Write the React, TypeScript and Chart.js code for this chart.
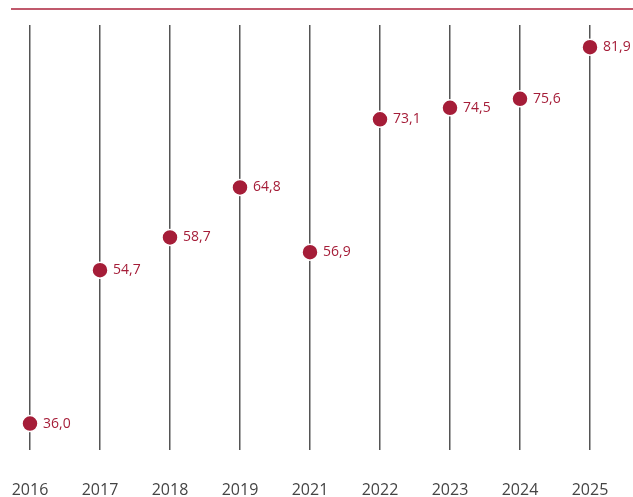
import React, { useEffect, useRef } from "react";
import { Chart, registerables } from "chart.js";

Chart.register(...registerables);

const years = ["2016", "2017", "2018", "2019", "2021", "2022", "2023", "2024", "2025"];
const values = [36.0, 54.7, 58.7, 64.8, 56.9, 73.1, 74.5, 75.6, 81.9];

const RED = "#a51d38";

export default function App() {
  const ref = useRef<HTMLCanvasElement | null>(null);
  useEffect(() => {
    document.body.style.margin = "0";
    const labelPlugin = {
      id: "labels",
      afterDatasetsDraw(chart: any) {
        const ctx = chart.ctx;
        const meta = chart.getDatasetMeta(0);
        ctx.save();
        ctx.font = "14px 'Open Sans'";
        ctx.fillStyle = RED;
        ctx.textBaseline = "middle";
        ctx.textAlign = "left";
        meta.data.forEach((pt: any, i: number) => {
          ctx.fillText(values[i].toFixed(1).replace(".", ","), pt.x + 13, pt.y);
        });
        ctx.restore();
      },
      beforeDraw(chart: any) {
        const ctx = chart.ctx;
        ctx.save();
        ctx.strokeStyle = "#c0596c";
        ctx.lineWidth = 2;
        ctx.beginPath();
        ctx.moveTo(11, 9);
        ctx.lineTo(chart.width, 9);
        ctx.stroke();
        ctx.restore();
      },
    };
    const chart = new Chart(ref.current!, {
      type: "line",
      data: {
        labels: years,
        datasets: [
          {
            data: values,
            showLine: false,
            pointRadius: 8,
            pointHoverRadius: 8,
            pointBackgroundColor: RED,
            pointBorderColor: "#ffffff",
            pointBorderWidth: 1.5,
          },
        ],
      },
      options: {
        animation: false,
        responsive: false,
        layout: { padding: { top: 25, left: 30, right: 43, bottom: -34 } },
        plugins: { legend: { display: false }, tooltip: { enabled: false } },
        scales: {
          x: {
            offset: false,
            afterFit: (scale: any) => {
              scale.paddingLeft = 0;
              scale.paddingRight = 0;
            },
            grid: { color: "#555555", lineWidth: 1.5, drawTicks: false },
            border: { display: false },
            ticks: {
              padding: 31,
              color: "#444444",
              font: { family: "'Open Sans'", size: 16 },
              maxRotation: 0,
              autoSkip: false,
            },
          },
          y: {
            display: false,
            min: 32.8,
            max: 84.6,
          },
        },
      },
      plugins: [labelPlugin],
    });
    return () => chart.destroy();
  }, []);
  return <canvas ref={ref} width={633} height={497} style={{ display: "block" }} />;
}
